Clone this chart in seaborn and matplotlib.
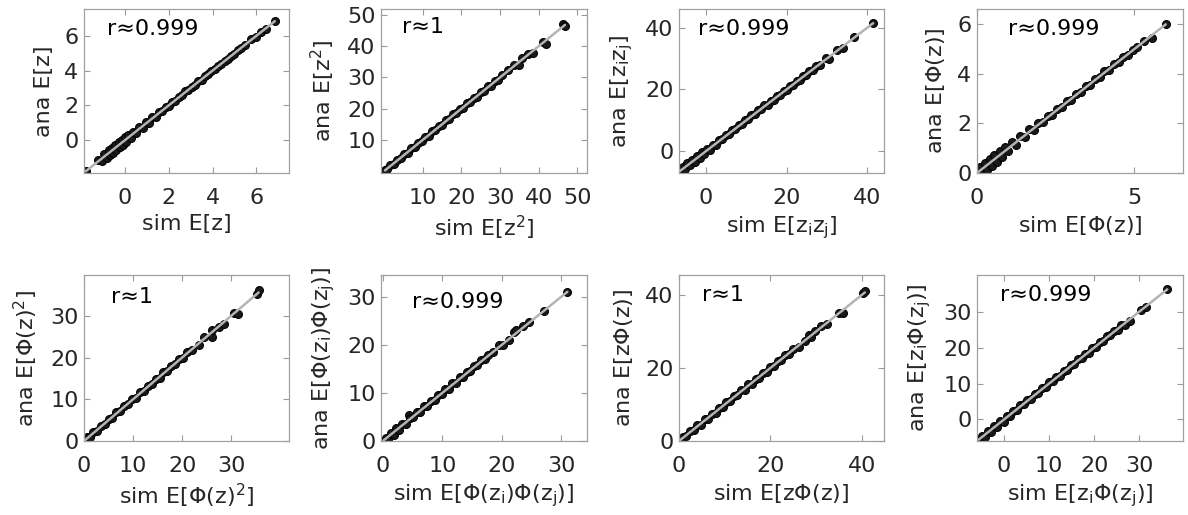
import matplotlib
matplotlib.use("Agg")
import matplotlib.pyplot as plt
import seaborn as sns

# ---------------- data ----------------
sim_z = [-1.80, -1.25, -1.05, -0.95, -0.85, -0.75, -0.70, -0.60, -0.55, -0.45, -0.40, -0.30, -0.25, -0.15, -0.10, 0.00,
         0.05, 0.15, 0.25, 0.35, 0.50, 0.65, 0.80, 0.95, 1.10, 1.25, 1.40, 1.55, 1.70, 1.85, 2.00, 2.15, 2.30, 2.45,
         2.60, 2.75, 2.90, 3.05, 3.20, 3.35, 3.50, 3.65, 3.80, 3.95, 4.10, 4.25, 4.40, 4.55, 4.70, 4.85, 5.00, 5.15,
         5.30, 5.50, 5.75, 6.00, 6.20, 6.45, 6.85]
ana_z = [-1.78, -1.15, -1.18, -0.82, -1.02, -0.58, -0.88, -0.45, -0.72, -0.30, -0.58, -0.12, -0.42, 0.02, -0.28, 0.18,
         -0.12, 0.30, 0.10, 0.45, 0.40, 0.75, 0.70, 1.02, 1.00, 1.32, 1.33, 1.60, 1.65, 1.90, 1.95, 2.20, 2.26, 2.48,
         2.57, 2.80, 2.86, 3.08, 3.17, 3.38, 3.47, 3.68, 3.78, 3.97, 4.08, 4.27, 4.38, 4.57, 4.69, 4.86, 4.98, 5.16,
         5.28, 5.48, 5.80, 5.95, 6.22, 6.40, 6.88]

sim_z2 = [0.2, 0.8, 1.6, 2.5, 3.4, 4.3, 5.2, 6.1, 7.0, 7.9, 8.8, 9.7, 10.6, 11.5, 12.4, 13.3, 14.2, 15.1, 16.0, 16.9,
          17.8, 18.7, 19.6, 20.5, 21.4, 22.3, 23.2, 24.1, 25.0, 25.9, 26.8, 27.7, 28.6, 29.5, 30.6, 32.0, 33.5, 34.8,
          35.6, 37.2, 38.6, 41.0, 41.8, 46.4, 46.8]
ana_z2 = [0.3, 0.6, 1.9, 2.3, 3.7, 4.1, 5.5, 5.9, 7.3, 7.7, 9.1, 9.5, 10.9, 11.3, 12.7, 13.1, 14.5, 14.9, 16.3, 16.7,
          18.2, 18.5, 19.9, 20.3, 21.7, 22.0, 23.5, 23.8, 25.3, 25.6, 27.1, 27.4, 28.9, 29.3, 30.8, 32.3, 34.0, 34.0,
          36.1, 37.6, 37.9, 41.3, 40.6, 47.1, 46.3]

sim_zz = [-6.5, -5.8, -5.2, -4.6, -4.0, -3.4, -2.8, -2.2, -1.6, -1.0, -0.4, 0.2, 0.9, 1.7, 2.5, 3.3, 4.1, 4.9, 5.7,
          6.5, 7.3, 8.1, 8.9, 9.7, 10.5, 11.3, 12.1, 12.9, 13.7, 14.5, 15.3, 16.1, 16.9, 17.7, 18.5, 19.3, 20.1, 20.9,
          21.7, 22.5, 23.3, 24.1, 24.9, 25.7, 26.5, 27.3, 28.2, 29.8, 30.5, 32.5, 34.0, 36.8, 41.5]
ana_zz = [-6.8, -5.3, -5.8, -4.0, -4.6, -2.9, -3.4, -1.6, -2.3, -0.4, -1.0, 0.8, 0.4, 2.1, 2.1, 3.7, 3.8, 5.2, 5.5,
          6.8, 7.1, 8.4, 8.7, 10.0, 10.3, 11.6, 11.9, 13.2, 13.5, 14.8, 15.1, 16.4, 16.7, 18.0, 18.3, 19.6, 19.9, 21.2,
          21.5, 22.8, 23.1, 24.4, 24.7, 26.0, 26.3, 27.6, 28.0, 30.1, 29.8, 32.7, 33.5, 37.0, 41.5]

sim_phi = [0.03, 0.10, 0.18, 0.25, 0.32, 0.40, 0.48, 0.55, 0.63, 0.72, 0.80, 0.90, 1.00, 1.12, 1.25, 1.38, 1.52, 1.66,
           1.80, 1.95, 2.10, 2.25, 2.40, 2.55, 2.70, 2.85, 3.00, 3.15, 3.30, 3.45, 3.60, 3.75, 3.90, 4.05, 4.20, 4.35,
           4.50, 4.65, 4.80, 4.95, 5.10, 5.30, 5.55, 6.00]
ana_phi = [0.05, 0.25, 0.02, 0.42, 0.12, 0.58, 0.30, 0.72, 0.45, 0.90, 0.65, 1.05, 0.88, 1.25, 1.15, 1.48, 1.45, 1.76,
           1.72, 2.03, 2.04, 2.32, 2.36, 2.60, 2.66, 2.90, 2.96, 3.20, 3.27, 3.50, 3.57, 3.80, 3.87, 4.10, 4.17, 4.39,
           4.47, 4.70, 4.76, 4.98, 5.07, 5.33, 5.45, 6.00]

sim_phi2 = [0.1, 0.6, 1.2, 1.9, 2.6, 3.4, 4.2, 5.0, 5.8, 6.6, 7.4, 8.2, 9.0, 9.8, 10.6, 11.4, 12.2, 13.0, 13.8, 14.6,
            15.4, 16.2, 17.0, 17.8, 18.6, 19.4, 20.2, 21.0, 22.0, 23.5, 24.5, 26.0, 26.2, 27.5, 28.5, 30.5, 31.3, 35.3,
            35.6]
ana_phi2 = [0.2, 0.9, 1.0, 2.2, 2.4, 3.7, 4.0, 5.3, 5.6, 6.9, 7.2, 8.5, 8.8, 10.1, 10.4, 11.7, 12.0, 13.3, 13.6, 14.9,
            15.2, 16.5, 16.8, 18.1, 18.4, 19.7, 20.0, 21.3, 21.9, 23.0, 24.9, 25.0, 26.5, 27.3, 28.0, 30.8, 30.4, 35.2,
            36.1]

sim_phiphi = [0.1, 0.5, 0.9, 1.3, 1.8, 2.3, 2.8, 3.3, 3.9, 4.4, 4.5, 5.1, 5.7, 6.3, 6.9, 7.5, 8.1, 8.7, 9.3, 9.9, 10.5,
              11.1, 11.7, 12.3, 12.9, 13.5, 14.1, 14.7, 15.3, 15.9, 16.5, 17.1, 17.7, 18.5, 19.5, 20.2, 21.2, 22.0,
              22.4, 23.5, 24.6, 27.0, 31.0]
ana_phiphi = [0.1, 0.7, 0.4, 1.6, 1.3, 2.6, 2.3, 3.6, 3.6, 5.4, 4.8, 4.9, 6.0, 6.1, 7.2, 7.3, 8.4, 8.5, 9.6, 9.7, 10.8,
              10.9, 12.0, 12.1, 13.2, 13.3, 14.4, 14.5, 15.6, 15.7, 16.8, 17.0, 17.9, 18.4, 19.9, 20.0, 21.0, 22.6,
              23.0, 23.8, 24.8, 27.0, 31.0]

sim_zphi = [0.1, 0.8, 1.6, 2.4, 3.2, 4.0, 4.8, 5.6, 6.4, 7.2, 8.0, 8.8, 9.6, 10.4, 11.2, 12.0, 12.8, 13.6, 14.4, 15.2,
            16.0, 16.8, 17.6, 18.4, 19.2, 20.0, 20.8, 21.6, 22.4, 23.2, 24.0, 25.0, 26.3, 27.5, 28.5, 29.0, 29.8, 31.0,
            32.5, 35.0, 36.0, 40.3, 40.7]
ana_zphi = [0.1, 1.1, 1.3, 2.7, 2.9, 4.3, 4.5, 5.9, 6.1, 7.5, 7.7, 9.1, 9.3, 10.7, 10.9, 12.3, 12.5, 13.9, 14.1, 15.5,
            15.7, 17.1, 17.3, 18.7, 18.9, 20.3, 20.5, 21.9, 22.1, 23.5, 23.8, 25.2, 25.8, 27.3, 29.0, 28.6, 30.2, 31.5,
            32.0, 35.2, 35.0, 40.6, 41.2]

sim_ziphi = [-5.6, -5.0, -4.3, -3.6, -2.9, -2.2, -1.5, -0.8, -0.1, 0.6, 1.3, 2.0, 2.8, 3.6, 4.4, 5.2, 6.0, 6.8, 7.6,
             8.4, 9.2, 10.0, 10.8, 11.6, 12.4, 13.2, 14.0, 14.8, 15.6, 16.4, 17.2, 18.0, 18.8, 19.6, 20.4, 21.2, 22.0,
             22.8, 23.6, 24.4, 25.2, 26.0, 26.8, 28.0, 30.3, 31.4, 36.2]
ana_ziphi = [-5.7, -4.6, -4.8, -3.1, -3.4, -1.8, -2.0, -0.3, -0.6, 1.0, 0.9, 2.3, 2.6, 3.9, 4.2, 5.5, 5.8, 7.1, 7.4,
             8.7, 9.0, 10.3, 10.6, 11.9, 12.2, 13.5, 13.8, 15.1, 15.4, 16.7, 17.0, 18.3, 18.6, 19.9, 20.2, 21.5, 21.8,
             23.1, 23.4, 24.7, 25.0, 26.3, 26.4, 27.5, 30.5, 31.2, 36.2]

r_labels = ["r\u22480.999", "r\u22481", "r\u22480.999", "r\u22480.999",
            "r\u22481", "r\u22480.999", "r\u22481", "r\u22480.999"]

x_labels = ["sim E[z]", r"sim E[z$^\mathrm{2}$]", r"sim E[z$_\mathrm{i}$z$_\mathrm{j}$]", r"sim E[$\Phi$(z)]",
            r"sim E[$\Phi$(z)$^\mathrm{2}$]", r"sim E[$\Phi$(z$_\mathrm{i}$)$\Phi$(z$_\mathrm{j}$)]",
            r"sim E[z$\Phi$(z)]", r"sim E[z$_\mathrm{i}$$\Phi$(z$_\mathrm{j}$)]"]
y_labels = ["ana E[z]", r"ana E[z$^\mathrm{2}$]", r"ana E[z$_\mathrm{i}$z$_\mathrm{j}$]", r"ana E[$\Phi$(z)]",
            r"ana E[$\Phi$(z)$^\mathrm{2}$]", r"ana E[$\Phi$(z$_\mathrm{i}$)$\Phi$(z$_\mathrm{j}$)]",
            r"ana E[z$\Phi$(z)]", r"ana E[z$_\mathrm{i}$$\Phi$(z$_\mathrm{j}$)]"]

x_ticks = [[0, 2, 4, 6], [10, 20, 30, 40, 50], [0, 20, 40], [0, 5],
           [0, 10, 20, 30], [0, 10, 20, 30], [0, 20, 40], [0, 10, 20, 30]]
y_ticks = [[0, 2, 4, 6], [10, 20, 30, 40, 50], [0, 20, 40], [0, 2, 4, 6],
           [0, 10, 20, 30], [0, 10, 20, 30], [0, 20, 40], [0, 10, 20, 30]]
x_lims = [(-1.88, 7.5), (-0.8, 52.5), (-6.7, 44.2), (0.0, 6.55),
          (0.0, 41.8), (-0.3, 34.3), (0.0, 44.9), (-6.0, 39.7)]
y_lims = [(-1.9, 7.55), (-0.6, 51.9), (-7.1, 46.1), (0.0, 6.62),
          (0.0, 39.8), (0.0, 34.5), (0.0, 45.5), (-6.0, 40.2)]

sims = [sim_z, sim_z2, sim_zz, sim_phi, sim_phi2, sim_phiphi, sim_zphi, sim_ziphi]
anas = [ana_z, ana_z2, ana_zz, ana_phi, ana_phi2, ana_phiphi, ana_zphi, ana_ziphi]

# ---------------- layout ----------------
sns.set_style("ticks")
plt.rcParams['font.family'] = ['DejaVu Sans']
plt.rcParams['mathtext.fontset'] = 'dejavusans'

W, H = 1188, 515
fig = plt.figure(figsize=(W / 100, H / 100), dpi=100)

col_left = [84, 381, 679, 977]
col_w = [205, 206, 205, 206]
row_top = [9, 275]
row_bot = [173, 441]
text_pos = [(0.11, 0.88), (0.10, 0.89), (0.095, 0.88), (0.15, 0.88),
            (0.13, 0.87), (0.15, 0.84), (0.11, 0.88), (0.11, 0.88)]

FS = 16
text_color = '#262626'
for i in range(8):
    r, c = divmod(i, 4)
    ax = fig.add_axes([col_left[c] / W, 1 - row_bot[r] / H, col_w[c] / W, (row_bot[r] - row_top[r]) / H])
    sx, sy = sims[i], anas[i]
    sns.scatterplot(x=sx, y=sy, ax=ax, color='#1a1a1a', edgecolor='black', linewidth=0.8,
                    s=32, marker='o', zorder=2, legend=False)
    lo, hi = min(sx), max(sx)
    sns.lineplot(x=[lo, hi], y=[lo, hi], ax=ax, color='#b4b4b4', linewidth=1.8, zorder=3)
    ax.set_xlim(*x_lims[i])
    ax.set_ylim(*y_lims[i])
    ax.set_xticks(x_ticks[i])
    ax.set_yticks(y_ticks[i])
    ax.tick_params(direction='in', length=4, width=0.8, top=True, right=True,
                   labelsize=FS, colors='#999999', labelcolor=text_color)
    ax.tick_params(axis='x', pad=11)
    ax.tick_params(axis='y', pad=4)
    for sp in ax.spines.values():
        sp.set_visible(True)
        sp.set_color('#a0a0a0')
        sp.set_linewidth(0.9)
    ax.set_xlabel(x_labels[i], fontsize=FS, color=text_color, labelpad=4)
    ax.set_ylabel(y_labels[i], fontsize=FS, color=text_color, labelpad=7)
    ax.text(text_pos[i][0], text_pos[i][1], r_labels[i], transform=ax.transAxes,
            fontsize=FS, color='black', va='center', ha='left')

fig.savefig("out.png", dpi=100)
